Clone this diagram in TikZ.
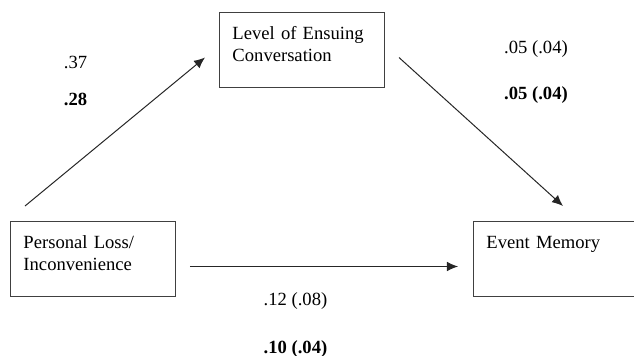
\documentclass[tikz,border=0pt]{standalone}
\usepackage{fontspec}
\setmainfont{Liberation Serif}
\usetikzlibrary{arrows.meta}
\usetikzlibrary{positioning}

\begin{document}
\begin{tikzpicture}[x=0.5pt,y=-0.5pt,font=\fontsize{9.3}{11}\selectfont,
  box/.style={draw=black!75,line width=0.5pt,shape=rectangle,anchor=north west,align=left,
    text width=69.5pt,text height=7pt,text depth=17.5pt,inner xsep=6.5pt,inner ysep=6.5pt},
  link/.style={-{Latex[length=5.5pt,width=4.8pt]},line width=0.5pt,color=black!85},
  coef/.style={anchor=base,inner sep=0pt},
  coefb/.style={anchor=base,inner sep=0pt,font=\fontsize{9.3}{11}\selectfont\bfseries}]
\useasboundingbox (0,0) rectangle (634,355);
\path (10,221) node(loss) [box] {Personal Loss/\\Inconvenience};
\path (219,12) node(conv) [box] {Level of Ensuing\\Conversation};
\path (473,221) node(memory) [box] {Event Memory};
\draw[link] ([xshift=7.5pt,yshift=7.5pt]loss.north west) -- ([xshift=-7pt,yshift=-3.75pt]conv.west);
\draw[link] ([xshift=7pt,yshift=-3.75pt]conv.east) -- ([xshift=45pt,yshift=7.5pt]memory.north west);
\draw[link] ([xshift=7pt,yshift=-3.75pt]loss.east) -- ([xshift=-7.5pt,yshift=-3.75pt]memory.west);
\path (75.5,68) node(a_0) [coef] {.37};
\path (75.5,105) node(a_1) [coefb] {.28};
\path (536,53.5) node(b_0) [coef] {.05 (.04)};
\path (536,99.5) node(b_1) [coefb] {.05 (.04)};
\path (295.5,305.5) node(c_0) [coef] {.12 (.08)};
\path (295.5,353.5) node(c_1) [coefb] {.10 (.04)};
\end{tikzpicture}
\end{document}
